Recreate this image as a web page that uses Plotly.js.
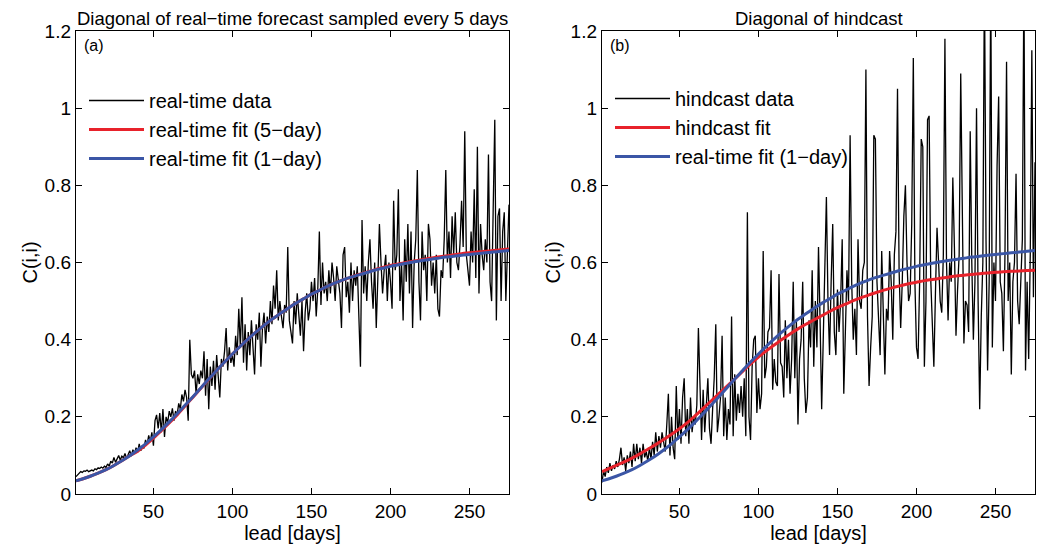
<!DOCTYPE html>
<html>
<head>
<meta charset="utf-8">
<script src="https://cdn.plot.ly/plotly-3.0.1.min.js"></script>
<style>html,body{margin:0;padding:0;background:#fff;}#chart{width:1043px;height:546px;}</style>
</head>
<body>
<div id="chart"></div>
<script>
// ---- data ----
const fitDays = [1,5,10,15,20,25,30,35,40,45,50,55,60,65,70,75,80,85,90,95,100,105,110,115,120,125,130,135,140,145,150,155,160,165,170,175,180,185,190,195,200,205,210,215,220,225,230,235,240,245,250,255,260,265,270,275];

const realtimeFit1day = [0.034,0.039,0.046,0.054,0.063,0.074,0.086,0.099,0.114,0.130,0.148,0.167,0.187,0.208,0.230,0.252,0.275,0.298,0.320,0.342,0.363,0.383,0.402,0.420,0.437,0.453,0.467,0.481,0.494,0.506,0.518,0.528,0.538,0.547,0.555,0.562,0.568,0.574,0.580,0.585,0.590,0.594,0.598,0.602,0.605,0.608,0.611,0.614,0.616,0.619,0.621,0.623,0.625,0.627,0.629,0.631];

const realtimeFit5day = [0.034,0.039,0.046,0.054,0.063,0.074,0.086,0.099,0.111,0.127,0.145,0.164,0.184,0.205,0.228,0.251,0.274,0.297,0.320,0.342,0.363,0.383,0.402,0.420,0.437,0.453,0.467,0.481,0.494,0.506,0.518,0.528,0.538,0.547,0.555,0.562,0.569,0.575,0.581,0.587,0.592,0.596,0.600,0.604,0.607,0.611,0.614,0.617,0.620,0.623,0.625,0.627,0.629,0.631,0.633,0.635];

const hindcastFit = [0.058,0.065,0.074,0.083,0.093,0.104,0.116,0.128,0.141,0.155,0.169,0.185,0.203,0.222,0.241,0.260,0.279,0.298,0.318,0.337,0.355,0.371,0.386,0.401,0.415,0.428,0.440,0.451,0.462,0.473,0.483,0.492,0.501,0.509,0.516,0.523,0.529,0.535,0.540,0.545,0.549,0.553,0.556,0.559,0.562,0.565,0.567,0.569,0.571,0.573,0.575,0.576,0.577,0.578,0.579,0.580];

// daily values, lead day 1..275
const realtimeData = [
0.045,0.05,0.055,0.058,0.056,0.06,0.059,0.062,0.058,0.06,
0.062,0.06,0.065,0.063,0.068,0.066,0.07,0.067,0.072,0.069,
0.078,0.072,0.085,0.08,0.095,0.082,0.09,0.1,0.088,0.098,
0.094,0.105,0.092,0.1,0.112,0.098,0.115,0.104,0.12,0.108,
0.13,0.112,0.125,0.118,0.14,0.128,0.152,0.135,0.16,0.125,
0.19,0.205,0.17,0.21,0.16,0.22,0.148,0.2,0.185,0.215,
0.2,0.222,0.19,0.215,0.205,0.235,0.22,0.258,0.24,0.27,
0.25,0.19,0.4,0.31,0.3,0.32,0.26,0.31,0.285,0.32,
0.3,0.37,0.255,0.35,0.22,0.33,0.28,0.345,0.27,0.36,
0.31,0.25,0.35,0.33,0.37,0.43,0.32,0.38,0.34,0.36,
0.33,0.41,0.36,0.48,0.38,0.51,0.34,0.44,0.32,0.42,
0.36,0.45,0.38,0.31,0.44,0.4,0.47,0.33,0.43,0.47,
0.39,0.46,0.42,0.5,0.44,0.54,0.48,0.58,0.45,0.5,
0.46,0.43,0.49,0.47,0.64,0.45,0.42,0.39,0.5,0.44,
0.52,0.46,0.41,0.5,0.37,0.47,0.52,0.45,0.48,0.55,
0.5,0.56,0.46,0.53,0.68,0.49,0.6,0.52,0.55,0.5,
0.58,0.52,0.6,0.56,0.5,0.59,0.55,0.52,0.43,0.62,
0.64,0.51,0.55,0.47,0.6,0.5,0.58,0.54,0.59,0.46,
0.33,0.71,0.52,0.59,0.5,0.6,0.66,0.55,0.48,0.6,
0.43,0.56,0.7,0.6,0.52,0.58,0.62,0.5,0.6,0.55,
0.48,0.76,0.58,0.62,0.79,0.5,0.6,0.45,0.66,0.55,
0.7,0.52,0.68,0.43,0.6,0.66,0.84,0.55,0.45,0.68,
0.58,0.62,0.5,0.7,0.66,0.54,0.6,0.52,0.62,0.48,
0.46,0.58,0.56,0.66,0.84,0.6,0.68,0.56,0.72,0.62,
0.73,0.6,0.58,0.65,0.76,0.64,0.94,0.62,0.58,0.54,
0.68,0.6,0.79,0.56,0.9,0.52,0.7,0.62,0.58,0.66,
0.6,0.88,0.55,0.5,0.74,0.97,0.45,0.72,0.74,0.5,
0.68,0.73,0.5,0.62,0.75];

const hindcastData = [
0.03,0.06,0.045,0.07,0.055,0.08,0.06,0.075,0.065,0.085,
0.07,0.09,0.12,0.075,0.095,0.06,0.1,0.08,0.11,0.07,
0.13,0.085,0.13,0.09,0.12,0.08,0.13,0.095,0.11,0.085,
0.12,0.09,0.135,0.1,0.16,0.11,0.15,0.12,0.16,0.13,
0.11,0.18,0.26,0.1,0.2,0.12,0.09,0.28,0.14,0.22,
0.13,0.25,0.3,0.15,0.22,0.13,0.25,0.16,0.2,0.18,
0.23,0.43,0.3,0.14,0.27,0.16,0.23,0.3,0.17,0.13,
0.22,0.3,0.44,0.16,0.2,0.25,0.41,0.15,0.25,0.14,
0.22,0.18,0.46,0.15,0.31,0.19,0.26,0.21,0.28,0.2,
0.3,0.15,0.73,0.2,0.14,0.33,0.4,0.41,0.21,0.3,
0.22,0.26,0.63,0.3,0.33,0.42,0.43,0.58,0.27,0.35,
0.29,0.28,0.57,0.34,0.33,0.25,0.45,0.3,0.4,0.26,
0.35,0.55,0.3,0.45,0.18,0.35,0.4,0.55,0.3,0.21,
0.25,0.45,0.38,0.58,0.33,0.5,0.38,0.64,0.45,0.22,
0.4,0.55,0.77,0.5,0.36,0.55,0.7,0.42,0.36,0.53,
0.42,0.5,0.66,0.26,0.45,0.58,0.5,0.93,0.55,0.4,
0.48,0.36,0.66,0.5,0.48,0.58,0.6,1.1,0.46,0.28,
0.38,0.46,0.93,0.92,0.55,0.44,0.36,0.63,0.5,0.31,
0.48,0.45,0.63,0.55,0.4,0.62,0.68,1.05,0.58,0.43,
0.55,0.72,0.8,0.6,0.5,0.52,0.7,1.13,0.55,0.38,
0.35,0.55,0.92,0.9,0.33,0.5,0.97,0.98,0.56,0.45,
0.33,0.52,0.69,0.6,0.5,0.47,0.62,1.18,0.6,0.45,
0.6,0.55,0.82,0.64,0.41,0.53,0.62,1.09,0.7,0.39,
0.5,0.49,0.42,0.94,0.6,0.4,0.55,1.0,0.5,0.22,
0.46,0.6,1.35,0.66,0.32,0.55,1.35,0.38,0.6,0.5,
0.85,1.03,0.55,0.52,0.37,0.62,1.12,0.5,0.6,0.31,
0.55,0.6,0.83,0.5,0.44,0.58,0.66,1.35,0.32,0.55,
0.35,0.62,1.15,0.51,0.86];

const leadDays = realtimeData.map((_, i) => i + 1);

const xTickVals = [50,100,150,200,250];
const yTickVals = [0,0.2,0.4,0.6,0.8,1,1.2];
const yTickText = ['0','0.2','0.4','0.6','0.8','1','1.2'];

// ---- styling ----
const W = 1043, H = 546;
const FONT = 'Liberation Sans, Arial, Helvetica, sans-serif';
const RED = '#e8222b', BLUE = '#3b56a6', BLACK = '#000000';
const L1 = [76/W, 509/W], L2 = [602/W, 1035/W];
const YD = [1 - 494/H, 1 - 31/H];

const traces = [
  {x: leadDays, y: realtimeData, type: 'scatter', mode: 'lines', name: 'real-time data',
   line: {color: BLACK, width: 1.3}, xaxis: 'x', yaxis: 'y', legend: 'legend', legendgroup: 'a1'},
  {x: fitDays, y: realtimeFit5day, type: 'scatter', mode: 'lines', name: 'real-time fit (5\u2212day)',
   line: {color: RED, width: 3, shape: 'spline'}, xaxis: 'x', yaxis: 'y', legend: 'legend', legendgroup: 'a2'},
  {x: fitDays, y: realtimeFit1day, type: 'scatter', mode: 'lines', name: 'real-time fit (1\u2212day)',
   line: {color: BLUE, width: 3, shape: 'spline'}, xaxis: 'x', yaxis: 'y', legend: 'legend', legendgroup: 'a3'},
  {x: leadDays, y: hindcastData, type: 'scatter', mode: 'lines', name: 'hindcast data',
   line: {color: BLACK, width: 1.3}, xaxis: 'x2', yaxis: 'y2', legend: 'legend2', legendgroup: 'b1'},
  {x: fitDays, y: hindcastFit, type: 'scatter', mode: 'lines', name: 'hindcast fit',
   line: {color: RED, width: 3, shape: 'spline'}, xaxis: 'x2', yaxis: 'y2', legend: 'legend2', legendgroup: 'b2'},
  {x: fitDays, y: realtimeFit1day, type: 'scatter', mode: 'lines', name: 'real-time fit (1\u2212day)',
   line: {color: BLUE, width: 3, shape: 'spline'}, xaxis: 'x2', yaxis: 'y2', legend: 'legend2', legendgroup: 'b3'}
];

function xax(domain, anchor) {
  return {domain: domain, anchor: anchor, range: [1, 275], tickvals: xTickVals,
    ticks: 'inside', ticklen: 6, tickcolor: BLACK, showline: true, linecolor: BLACK, linewidth: 1.2,
    mirror: 'allticks', showgrid: false, zeroline: false,
    tickfont: {family: FONT, size: 19, color: BLACK},
    title: {text: 'lead [days]', font: {family: FONT, size: 20, color: BLACK}, standoff: 0}};
}
function yax(anchor) {
  return {domain: YD, anchor: anchor, range: [0, 1.2], tickvals: yTickVals, ticktext: yTickText,
    ticks: 'inside', ticklen: 6, tickcolor: BLACK, showline: true, linecolor: BLACK, linewidth: 1.2,
    mirror: 'allticks', showgrid: false, zeroline: false,
    tickfont: {family: FONT, size: 19, color: BLACK}};
}
function leg(xpx, ypx) {
  return {x: xpx / W, y: 1 - ypx / H, xanchor: 'left', yanchor: 'top', itemwidth: 55,
    bgcolor: 'rgba(0,0,0,0)', borderwidth: 0, tracegroupgap: 0,
    font: {family: FONT, size: 20, color: BLACK}};
}
function ytitle(xpx) {
  return {text: 'C(i,i)', xref: 'paper', yref: 'paper', x: xpx / W, y: (YD[0] + YD[1]) / 2,
    xanchor: 'center', yanchor: 'middle', textangle: -90, showarrow: false,
    font: {family: FONT, size: 20, color: BLACK}};
}

const layout = {
  width: W, height: H, paper_bgcolor: '#fff', plot_bgcolor: '#fff',
  margin: {l: 0, r: 0, t: 0, b: 0},
  font: {family: FONT, color: BLACK},
  xaxis: xax(L1, 'y'), yaxis: yax('x'),
  xaxis2: xax(L2, 'y2'), yaxis2: yax('x2'),
  legend: leg(84, 81), legend2: leg(610, 79),
  showlegend: true,
  annotations: [
    {text: 'Diagonal of real\u2212time forecast sampled every 5 days', xref: 'paper', yref: 'paper',
     x: (L1[0] + L1[1]) / 2, y: YD[1], xanchor: 'center', yanchor: 'bottom', showarrow: false,
     font: {family: FONT, size: 18.5, color: BLACK}},
    {text: 'Diagonal of hindcast', xref: 'paper', yref: 'paper',
     x: (L2[0] + L2[1]) / 2, y: YD[1], xanchor: 'center', yanchor: 'bottom', showarrow: false,
     font: {family: FONT, size: 18.5, color: BLACK}},
    {text: '(a)', xref: 'paper', yref: 'paper', x: 82 / W, y: 1 - 35 / H, xanchor: 'left', yanchor: 'top',
     showarrow: false, font: {family: FONT, size: 16, color: BLACK}},
    {text: '(b)', xref: 'paper', yref: 'paper', x: 608 / W, y: 1 - 35 / H, xanchor: 'left', yanchor: 'top',
     showarrow: false, font: {family: FONT, size: 16, color: BLACK}},
    ytitle(29), ytitle(552)
  ]
};

Plotly.newPlot('chart', traces, layout, {displayModeBar: false, staticPlot: true});
</script>
</body>
</html>
